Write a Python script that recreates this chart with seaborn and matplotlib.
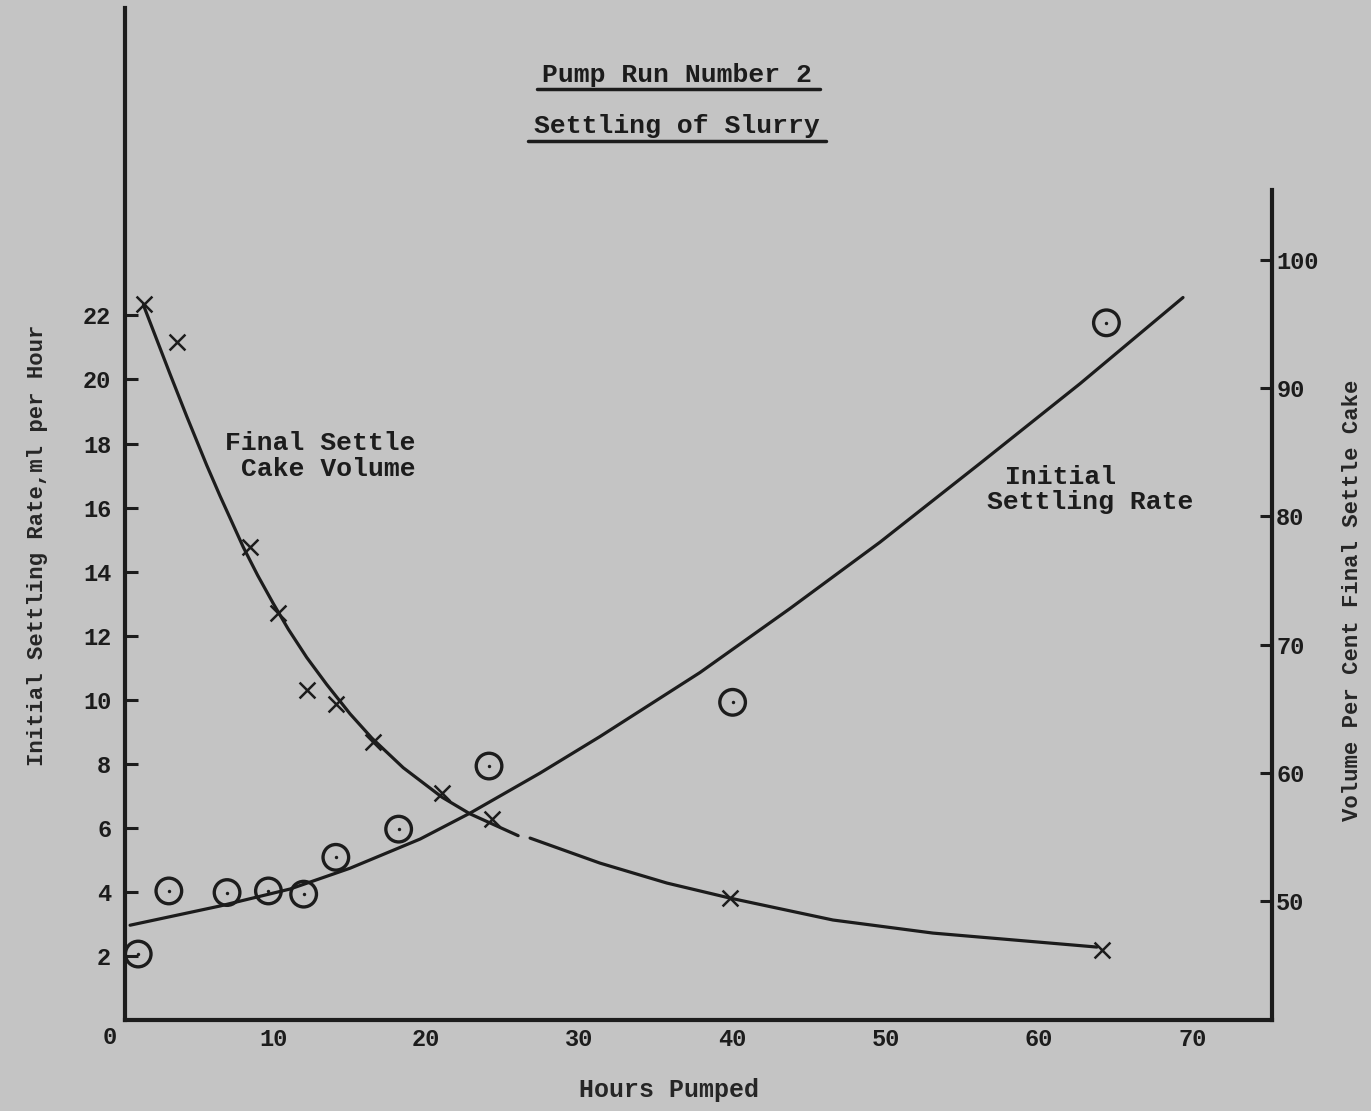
import matplotlib
matplotlib.use("Agg")
import matplotlib.pyplot as plt
from matplotlib.lines import Line2D
import seaborn as sns
import pandas as pd

rate_hours = [1.2, 3.2, 7.0, 9.7, 12.0, 14.1, 18.2, 24.1, 40.0, 64.4]
rate_values = [2.06, 4.03, 3.98, 4.03, 3.93, 5.08, 5.96, 7.93, 9.92, 21.77]

cake_hours = [1.6, 3.7, 8.5, 10.3, 12.2, 14.1, 16.5, 21.0, 24.3, 39.8, 64.1]
cake_values = [96.6, 93.6, 77.6, 72.5, 66.5, 65.4, 62.4, 58.4, 56.4, 50.2, 46.2]

# hand drawn fitted curves
rate_curve_hours = [0.67, 6.54, 11.11, 15.03, 19.60, 22.86, 27.43, 31.34, 37.87, 43.75, 49.62, 56.15, 62.68, 69.40]
rate_curve_values = [2.96, 3.56, 4.09, 4.74, 5.65, 6.46, 7.71, 8.85, 10.85, 12.85, 14.92, 17.38, 19.87, 22.56]

cake_curve_hours = [1.54, 3.28, 4.37, 5.67, 6.54, 8.06, 9.0, 10.02, 11.0, 12.20, 13.5, 15.03, 16.46, 18.5,
                    21.03, 22.86, 26.00,
                    26.78, 31.34, 35.72, 39.83, 46.55, 53.08, 63.78]
cake_curve_values = [96.49, 91.1, 87.8, 84.0, 81.6, 77.6, 75.4, 73.2, 71.2, 69.0, 66.9, 64.6, 62.7, 60.4,
                     58.1, 56.8, 55.1,
                     54.91, 52.96, 51.40, 50.23, 48.52, 47.50, 46.41]
cake_curve_segment = [0] * 17 + [1] * 7   # the pen lifted once near 26 h

left_ticks = [2, 4, 6, 8, 10, 12, 14, 16, 18, 20, 22]
right_ticks = [50, 60, 70, 80, 90, 100]
x_ticks = [10, 20, 30, 40, 50, 60, 70]

paper = "#c4c4c4"
ink = "#1c1c1c"

sns.set_style("white", {"axes.facecolor": paper, "figure.facecolor": paper})
plt.rcParams["font.family"] = ["Liberation Mono", "DejaVu Sans Mono"]
plt.rcParams["font.weight"] = "bold"
plt.rcParams["text.color"] = ink

fig = plt.figure(figsize=(13.71, 11.11), dpi=100)
ax = fig.add_axes([0.0912, 0.0819, 0.8366, 0.9109])
ax2 = ax.twinx()

rate_curve = pd.DataFrame({"hours": rate_curve_hours, "rate": rate_curve_values})
cake_curve = pd.DataFrame({"hours": cake_curve_hours, "cake": cake_curve_values, "seg": cake_curve_segment})

sns.lineplot(data=rate_curve, x="hours", y="rate", ax=ax, color=ink, lw=2.3, sort=False, estimator=None)
sns.lineplot(data=cake_curve, x="hours", y="cake", units="seg", estimator=None, ax=ax2, color=ink, lw=2.3, sort=False)

# circles with a dot in the middle
sns.scatterplot(x=rate_hours, y=rate_values, ax=ax, marker="o", s=340, facecolor="none",
                edgecolor=ink, linewidth=2.4, zorder=5)
sns.scatterplot(x=rate_hours, y=rate_values, ax=ax, marker="o", s=6, color=ink, linewidth=0, zorder=6)
# crosses
sns.scatterplot(x=cake_hours, y=cake_values, ax=ax2, marker="x", s=130, color=ink, linewidth=1.8, zorder=5)

ax.set_xlim(0.34, 75.21)
ax.set_ylim(0, 31.6)
ax2.set_ylim(40.72, 119.66)

ax.set_xticks(x_ticks)
ax.set_yticks(left_ticks)
ax2.set_yticks(right_ticks)

for a in (ax, ax2):
    a.spines["top"].set_visible(False)
    for s in a.spines.values():
        s.set_linewidth(3)
        s.set_color(ink)
ax.spines["right"].set_visible(False)
ax2.spines["left"].set_visible(False)
ax2.spines["bottom"].set_visible(False)
ax2.spines["right"].set_bounds(40.72, 105.46)

ax.tick_params(axis="x", direction="in", length=6, width=2.2, pad=6, labelsize=17, colors=ink)
ax.tick_params(axis="y", direction="in", length=9, width=2.2, pad=10, labelsize=17, colors=ink)
ax2.tick_params(axis="y", direction="in", length=9, width=2.2, pad=3, labelsize=17, colors=ink)

ax.set_xlabel("Hours Pumped", fontsize=18, fontweight="bold", va="top")
ax.xaxis.set_label_coords(0.474, -0.057)
ax.set_ylabel("Initial Settling Rate,ml per Hour", fontsize=16, fontweight="bold")
ax.yaxis.set_label_coords(-0.067, 0.469)
ax2.set_ylabel("Volume Per Cent Final Settle Cake", fontsize=16, fontweight="bold")
ax2.yaxis.set_label_coords(1.061, 0.415)

# shared origin label
ax.text(-0.013, -0.017, "0", transform=ax.transAxes, ha="center", va="center", fontsize=17, fontweight="bold")

# curve captions
ax.text(6.87, 18.03, "Final Settle", ha="left", va="center", fontsize=19, fontweight="bold")
ax.text(7.91, 17.19, "Cake Volume", ha="left", va="center", fontsize=19, fontweight="bold")
ax.text(57.8, 16.94, "Initial", ha="left", va="center", fontsize=19, fontweight="bold")
ax.text(56.6, 16.19, "Settling Rate", ha="left", va="center", fontsize=19, fontweight="bold")

# underlined title
fig.text(0.494, 0.9325, "Pump Run Number 2", ha="center", va="center", fontsize=19, fontweight="bold")
fig.text(0.494, 0.8866, "Settling of Slurry", ha="center", va="center", fontsize=19, fontweight="bold")
fig.add_artist(Line2D([0.3917, 0.598], [0.9199, 0.9199], transform=fig.transFigure, color=ink, lw=2.5))
fig.add_artist(Line2D([0.385, 0.6025], [0.8731, 0.8731], transform=fig.transFigure, color=ink, lw=2.5))

fig.savefig("out.png", dpi=100, facecolor=paper)
